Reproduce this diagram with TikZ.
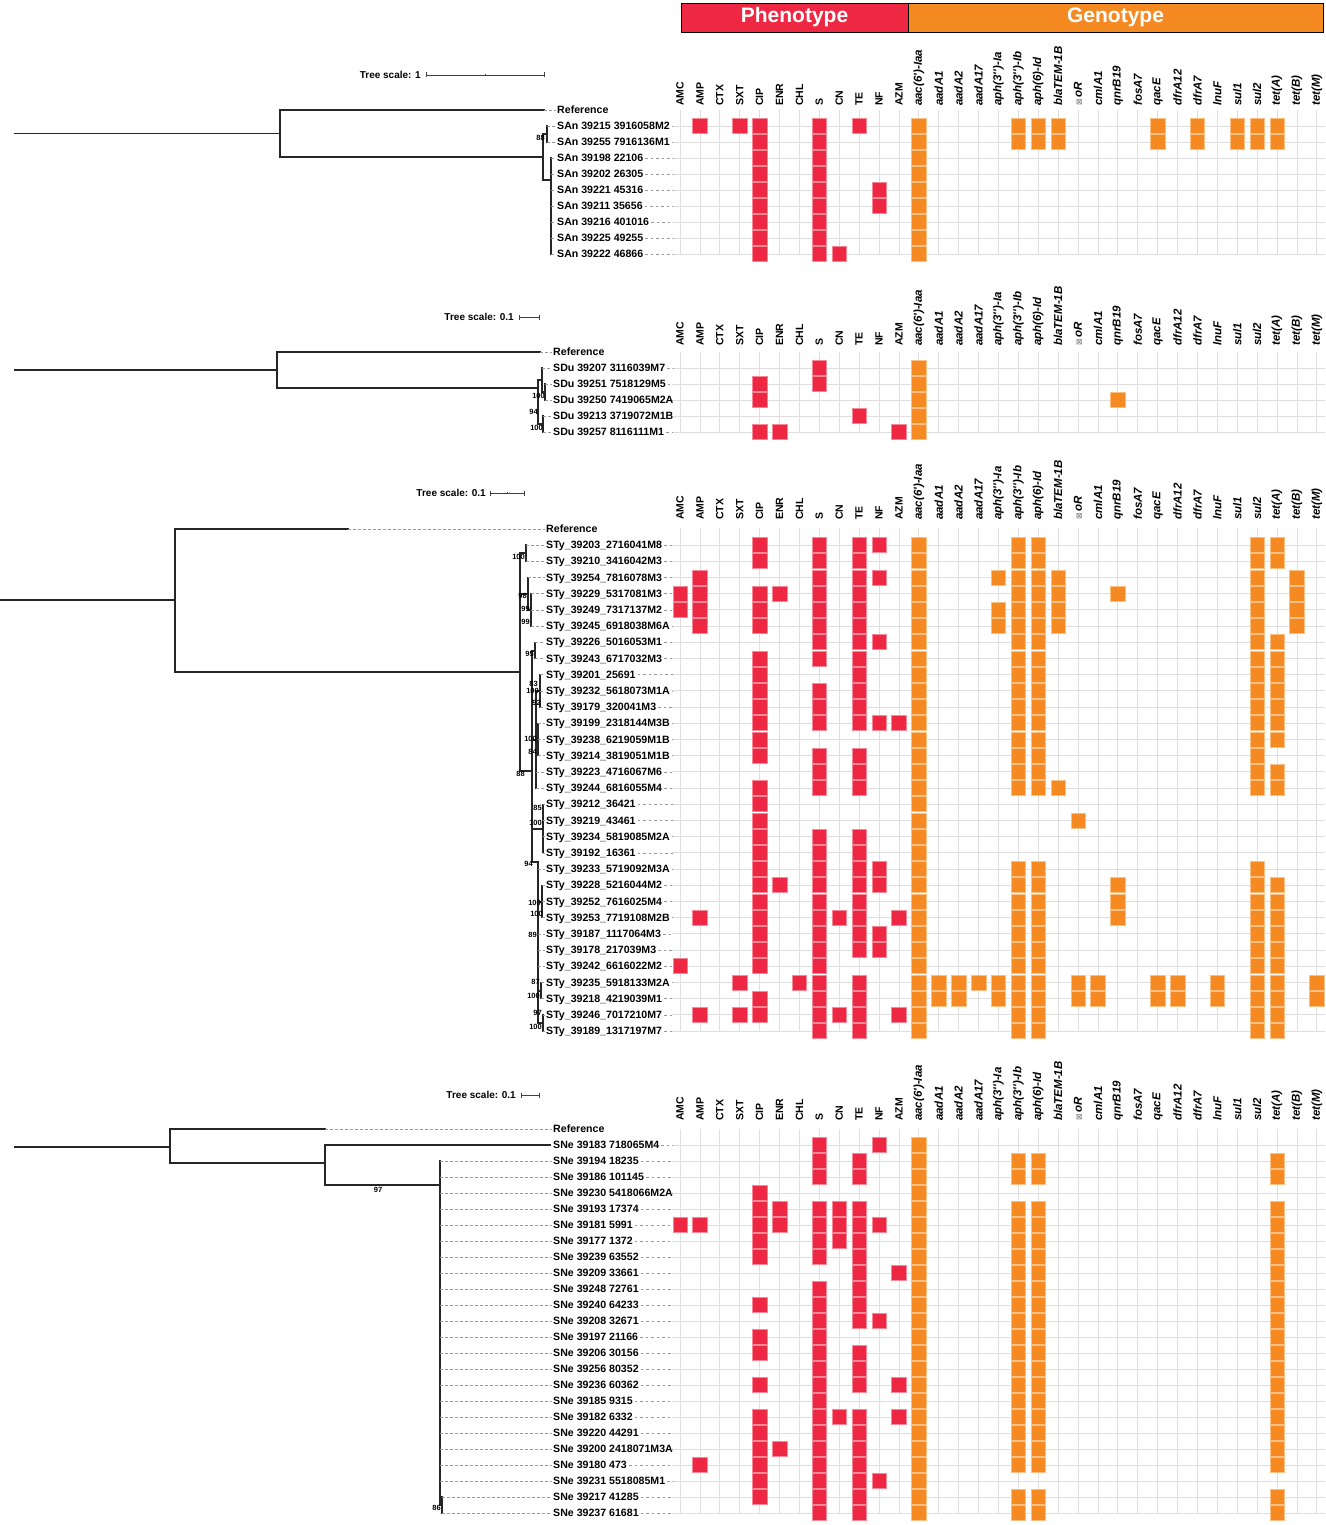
\documentclass[tikz,border=0pt]{standalone}
\usepackage{fontspec}
\setmainfont{Liberation Sans}
\newfontfamily\symf{DejaVu Sans}
\definecolor{phen}{HTML}{EE2742}
\definecolor{geno}{HTML}{F58A22}
\tikzset{
 treeline/.style={draw=black!85, line width=1.2pt, line cap=rect},
 leafdash/.style={draw=black!40, dash pattern=on 2.5pt off 2.5pt, line width=0.6pt, shorten >=1pt},
 trail/.style={draw=black!40, dash pattern=on 2.5pt off 3pt, line width=0.6pt, shorten <=2pt},
 leaf/.style={anchor=west, inner sep=0pt, text height=7.5pt, text depth=0pt, font=\bfseries\fontsize{10.6}{12}\selectfont},
 hlabp/.style={anchor=west, rotate=90, inner sep=0pt, font=\bfseries\fontsize{10.5}{10.5}\selectfont},
 hlabg/.style={anchor=west, rotate=90, inner sep=0pt, font=\bfseries\itshape\fontsize{11.5}{11.5}\selectfont},
 boot/.style={anchor=east, inner sep=0pt, font=\bfseries\fontsize{7.5}{7.5}\selectfont},
 scaletxt/.style={anchor=east, inner sep=0pt, font=\bfseries\fontsize{10}{10}\selectfont},
 scalebar/.style={draw=black!75, line width=0.7pt},
 gridl/.style={draw=black!13, line width=0.8pt},
 cellp/.style={fill=phen, draw=phen!55!white, line width=0.5pt},
 cellg/.style={fill=geno, draw=geno!55!white, line width=0.5pt},
 bar/.style={draw=black, line width=0.8pt},
 bartxt/.style={text=white, font=\bfseries\fontsize{21}{21}\selectfont, inner sep=0pt}
}
\newcommand\hdr[1]{%
 \foreach \lab [count=\i from 0] in {AMC,AMP,CTX,SXT,CIP,ENR,CHL,S,CN,TE,NF,AZM}
   \node[hlabp] (hp-#1-\i) at ({680+19.9*\i},#1) {\lab};
 \foreach \lab [count=\i from 12] in {{aac(6\textquotesingle)-Iaa},aadA1,aadA2,aadA17,{aph(3\textquotesingle\textquotesingle)-Ia},{aph(3\textquotesingle\textquotesingle)-Ib},{aph(6)-Id},blaTEM-1B,{{\symf\mdseries\upshape\fontsize{8}{8}\selectfont\color{black!55}⊠}\,oR},cmlA1,qnrB19,fosA7,qacE,dfrA12,dfrA7,lnuF,sul1,sul2,{tet(A)},{tet(B)},{tet(M)}}
   \node[hlabg] (hg-#1-\i) at ({680+19.9*\i},#1) {\lab};
}
\newcommand\grid[3]{%
 \foreach \i in {0,...,32} \draw[gridl] ({680+19.9*\i},#1) -- ({680+19.9*\i},#2);
 \foreach \yy in {#3} \draw[gridl] (672,\yy) -- (1325,\yy);
}
\newcommand\cells[2]{%
 \foreach \c in {#2} {%
   \ifnum\c<12 \def\st{cellp}\else\def\st{cellg}\fi
   \draw[\st] ({680+19.9*\c-7.25},{#1-7.5}) rectangle ++(14.5,15);
 }}
\newcommand\leaves[3]{%
 \foreach \lab/\yy/\tx [count=\k] in {#3} {%
   \node[leaf] (#1\k) at (#2,\yy) {\lab};
   \draw[leafdash] (\tx,\yy) -- (#1\k.west);
   \draw[trail] (#1\k.east) -- (673,\yy);
 }}
\begin{document}
\begin{tikzpicture}[x=1pt,y=-1pt]
\useasboundingbox[fill=white] (0,0) rectangle (1325,1525);

% ===== header bars =====
\draw[bar, fill=phen] (681,3) rectangle (908,32);
\draw[bar, fill=geno] (908,3) rectangle (1323,32);
\node[bartxt] (phenot) at (794.5,17.5) {Phenotype};
\node[bartxt] (genot) at (1115.5,17.5) {Genotype};

% ===== panel 1 =====
\hdr{106}
\grid{110}{254}{126,142,158,174,190,206,222,238,254}
\cells{126}{1,3,4,7,9,12,17,18,19,24,26,28,29,30}
\cells{142}{4,7,12,17,18,19,24,26,28,29,30}
\cells{158}{4,7,12}
\cells{174}{4,7,12}
\cells{190}{4,7,10,12}
\cells{206}{4,7,10,12}
\cells{222}{4,7,12}
\cells{238}{4,7,12}
\cells{254}{4,7,8,12}
\node[scaletxt] (ts1) at (421,75) {Tree scale: 1};
\coordinate (sb1a) at (426,75); \coordinate (sb1b) at (544,75);
\draw[scalebar] (sb1a) -- (sb1b);
\draw[scalebar] (426,72.5) -- (426,77.5) (544,72.5) -- (544,77.5) (485,74) -- (485,76);
\draw[treeline] (15,133.5) -- (280,133.5) (280,110) -- (280,157);
\draw[treeline] (280,110) -- (544,110) (280,157) -- (543,157);
\draw[treeline] (543,134) -- (543,180) (543,134) -- (547,134) (547,126) -- (547,142);
\draw[treeline] (543,180) -- (551,180) (551,158) -- (551,254);
\node[leaf] (ref1) at (557,110) {Reference};
\draw[leafdash] (544,110) -- (ref1.west);
\node[boot] (bs1) at (545,138) {88};
\leaves{pa}{557}{SAn 39215 3916058M2/126/547,SAn 39255 7916136M1/142/547,SAn 39198 22106/158/551,SAn 39202 26305/174/551,SAn 39221 45316/190/551,SAn 39211 35656/206/551,SAn 39216 401016/222/551,SAn 39225 49255/238/551,SAn 39222 46866/254/551}

% ===== panel 2 =====
\hdr{346}
\grid{352}{432}{368,384,400,416,432}
\cells{368}{7,12}
\cells{384}{4,7,12}
\cells{400}{4,12,22}
\cells{416}{9,12}
\cells{432}{4,5,11,12}
\node[scaletxt] (ts2) at (514,317) {Tree scale: 0.1};
\draw[scalebar] (519,317) -- (539,317);
\draw[scalebar] (519,314.5) -- (519,319.5) (539,314.5) -- (539,319.5);
\draw[treeline] (15,370) -- (277,370) (277,352) -- (277,388);
\draw[treeline] (277,352) -- (540,352) (277,388) -- (538,388);
\draw[treeline] (538,380) -- (538,424);
\draw[treeline] (538,380) -- (542,380) (542,368) -- (542,392) (542,392) -- (545,392) (545,384) -- (545,400);
\draw[treeline] (538,424) -- (543,424) (543,416) -- (543,432);
\node[leaf] (ref2) at (553,352) {Reference};
\draw[leafdash] (540,352) -- (ref2.west);
\node[boot] (bs2a) at (545,396) {100};
\node[boot] (bs2b) at (538,412) {94};
\node[boot] (bs2c) at (543,428) {100};
\leaves{pb}{553}{SDu 39207 3116039M7/368/542,SDu 39251 7518129M5/384/545,SDu 39250 7419065M2A/400/545,SDu 39213 3719072M1B/416/543,SDu 39257 8116111M1/432/543}

% ===== panel 3 =====
\hdr{520}
\grid{528}{1031}{545.0,561.2,577.4,593.6,609.8,626.0,642.2,658.4,674.6,690.8,707.0,723.2,739.4,755.6,771.8,788.0,804.2,820.4,836.6,852.8,869.0,885.2,901.4,917.6,933.8,950.0,966.2,982.4,998.6,1014.8,1031.0}
\cells{545.0}{4,7,9,10,12,17,18,29,30}
\cells{561.2}{4,7,9,12,17,18,29,30}
\cells{577.4}{1,7,9,10,12,16,17,18,19,29,31}
\cells{593.6}{0,1,4,5,7,9,12,17,18,19,22,29,31}
\cells{609.8}{0,1,4,7,9,12,16,17,18,19,29,31}
\cells{626.0}{1,4,7,9,12,16,17,18,19,29,31}
\cells{642.2}{7,9,10,12,17,18,29,30}
\cells{658.4}{4,7,9,12,17,18,29,30}
\cells{674.6}{4,9,12,17,18,29,30}
\cells{690.8}{4,7,9,12,17,18,29,30}
\cells{707.0}{4,7,9,12,17,18,29,30}
\cells{723.2}{4,7,9,10,11,12,17,18,29,30}
\cells{739.4}{4,12,17,18,29,30}
\cells{755.6}{4,7,9,12,17,18,29}
\cells{771.8}{7,9,12,17,18,29,30}
\cells{788.0}{4,7,9,12,17,18,19,29,30}
\cells{804.2}{4,12}
\cells{820.4}{4,12,20}
\cells{836.6}{4,7,9,12}
\cells{852.8}{4,7,9,12}
\cells{869.0}{4,7,9,10,12,17,18,29}
\cells{885.2}{4,5,7,9,10,12,17,18,22,29,30}
\cells{901.4}{4,7,9,12,17,18,22,29,30}
\cells{917.6}{1,4,7,8,9,11,12,17,18,22,29,30}
\cells{933.8}{4,7,9,10,12,17,18,29,30}
\cells{950.0}{4,7,9,10,12,17,18,29,30}
\cells{966.2}{0,4,7,12,17,18,29,30}
\cells{982.4}{3,6,7,9,12,13,14,15,16,17,18,20,21,24,25,27,29,30,32}
\cells{998.6}{4,7,9,12,13,14,16,17,18,20,21,24,25,27,29,30,32}
\cells{1014.8}{1,3,4,7,8,9,11,12,17,18,29,30}
\cells{1031.0}{7,9,12,17,18,29,30}
\node[scaletxt] (ts3) at (486,493) {Tree scale: 0.1};
\draw[scalebar] (490,493) -- (524,493);
\draw[scalebar] (490,490.5) -- (490,495.5) (524,490.5) -- (524,495.5) (507,492) -- (507,494);
\draw[treeline] (0,600) -- (175,600) (175,529) -- (175,672);
\draw[treeline] (175,529) -- (348,529) (175,672) -- (520,672);
\draw[treeline] (520,553) -- (520,771);
\draw[treeline] (520,553) -- (526,553) (526,545) -- (526,561.2);
\draw[treeline] (520,594) -- (528,594) (528,577.4) -- (528,610) (528,610) -- (531,610) (531,593.6) -- (531,626);
\draw[treeline] (520,771) -- (532,771) (532,651) -- (532,862);
\draw[treeline] (532,651) -- (535,651) (535,642.2) -- (535,658.4);
\draw[treeline] (532,740) -- (536,740) (536,691) -- (536,788);
\draw[treeline] (536,691) -- (540,691) (540,674.6) -- (540,707);
\draw[treeline] (536,740) -- (538,740) (538,723.2) -- (538,755.6);
\draw[treeline] (532,829) -- (543,829) (543,804.2) -- (543,852.8);
\draw[treeline] (532,862) -- (538,862) (538,869) -- (538,1023) (538,862) -- (538,869);
\draw[treeline] (538,902) -- (542,902) (542,885.2) -- (542,917.6);
\draw[treeline] (538,991) -- (541,991) (541,982.4) -- (541,998.6);
\draw[treeline] (538,1023) -- (543,1023) (543,1014.8) -- (543,1031);
\node[leaf] (ref3) at (546,529) {Reference};
\draw[leafdash] (348,529) -- (ref3.west);
\node[boot] (bs3a) at (525,557) {100};
\node[boot] (bs3b) at (527,596) {98};
\node[boot] (bs3c) at (530,609) {99};
\node[boot] (bs3d) at (530,622) {99};
\node[boot] (bs3e) at (534,654) {95};
\node[boot] (bs3f) at (538,684) {83};
\node[boot] (bs3g) at (539,691) {100};
\node[boot] (bs3h) at (541,703) {92};
\node[boot] (bs3i) at (537,739) {100};
\node[boot] (bs3j) at (537,752) {84};
\node[boot] (bs3k) at (525,774) {88};
\node[boot] (bs3l) at (542,808) {85};
\node[boot] (bs3m) at (542,823) {100};
\node[boot] (bs3n) at (533,864) {94};
\node[boot] (bs3o) at (541,903) {100};
\node[boot] (bs3p) at (543,914) {100};
\node[boot] (bs3q) at (537,935) {89};
\node[boot] (bs3r) at (540,982) {87};
\node[boot] (bs3s) at (540,996) {100};
\node[boot] (bs3t) at (542,1013) {97};
\node[boot] (bs3u) at (542,1027) {100};
\leaves{pc}{546}{STy\_39203\_2716041M8/545.0/526,STy\_39210\_3416042M3/561.2/526,STy\_39254\_7816078M3/577.4/528,STy\_39229\_5317081M3/593.6/531,STy\_39249\_7317137M2/609.8/531,STy\_39245\_6918038M6A/626.0/531,STy\_39226\_5016053M1/642.2/535,STy\_39243\_6717032M3/658.4/535,STy\_39201\_25691/674.6/540,STy\_39232\_5618073M1A/690.8/540,STy\_39179\_320041M3/707.0/540,STy\_39199\_2318144M3B/723.2/538,STy\_39238\_6219059M1B/739.4/538,STy\_39214\_3819051M1B/755.6/538,STy\_39223\_4716067M6/771.8/536,STy\_39244\_6816055M4/788.0/536,STy\_39212\_36421/804.2/543,STy\_39219\_43461/820.4/543,STy\_39234\_5819085M2A/836.6/543,STy\_39192\_16361/852.8/543,STy\_39233\_5719092M3A/869.0/538,STy\_39228\_5216044M2/885.2/542,STy\_39252\_7616025M4/901.4/542,STy\_39253\_7719108M2B/917.6/542,STy\_39187\_1117064M3/933.8/538,STy\_39178\_217039M3/950.0/538,STy\_39242\_6616022M2/966.2/538,STy\_39235\_5918133M2A/982.4/541,STy\_39218\_4219039M1/998.6/541,STy\_39246\_7017210M7/1014.8/543,STy\_39189\_1317197M7/1031.0/543}

% ===== panel 4 =====
\hdr{1121}
\grid{1129}{1513}{1145,1161,1177,1193,1209,1225,1241,1257,1273,1289,1305,1321,1337,1353,1369,1385,1401,1417,1433,1449,1465,1481,1497,1513}
\cells{1145}{7,10,12}
\cells{1161}{7,9,12,17,18,30}
\cells{1177}{7,9,12,17,18,30}
\cells{1193}{4,12}
\cells{1209}{4,5,7,8,9,12,17,18,30}
\cells{1225}{0,1,4,5,7,8,9,10,12,17,18,30}
\cells{1241}{4,7,8,9,12,17,18,30}
\cells{1257}{4,7,9,12,17,18,30}
\cells{1273}{9,11,12,17,18,30}
\cells{1289}{7,9,12,17,18,30}
\cells{1305}{4,7,9,12,17,18,30}
\cells{1321}{7,9,10,12,17,18,30}
\cells{1337}{4,7,12,17,18,30}
\cells{1353}{4,7,9,12,17,18,30}
\cells{1369}{7,9,12,17,18,30}
\cells{1385}{4,7,9,11,12,17,18,30}
\cells{1401}{7,12,17,18,30}
\cells{1417}{4,7,8,9,11,12,17,18,30}
\cells{1433}{4,7,9,12,17,18,30}
\cells{1449}{4,5,7,9,12,17,18,30}
\cells{1465}{1,4,7,9,12,17,18,30}
\cells{1481}{4,7,9,10,12}
\cells{1497}{4,7,9,12,17,18,30}
\cells{1513}{7,9,12,17,18,30}
\node[scaletxt] (ts4) at (516,1095) {Tree scale: 0.1};
\draw[scalebar] (521,1095) -- (539,1095);
\draw[scalebar] (521,1092.5) -- (521,1097.5) (539,1092.5) -- (539,1097.5);
\draw[treeline] (15,1147) -- (170,1147) (170,1129) -- (170,1163);
\draw[treeline] (170,1129) -- (325,1129) (170,1163) -- (325,1163);
\draw[treeline] (325,1145) -- (325,1185) (325,1185) -- (440,1185);
\draw[treeline] (440,1161) -- (440,1505) (440,1505) -- (442,1505) (442,1497) -- (442,1513);
\node[leaf] (ref4) at (553,1129) {Reference};
\draw[leafdash] (325,1129) -- (ref4.west);
\node[leaf] (pd0) at (553,1145) {SNe 39183 718065M4};
\draw[treeline] (325,1145) -- ([xshift=-3pt]pd0.west);
\draw[trail] (pd0.east) -- (673,1145);
\node[boot, anchor=north] (bs4a) at (378,1187) {97};
\node[boot] (bs4b) at (441,1508) {86};
\leaves{pd}{553}{SNe 39194 18235/1161/440,SNe 39186 101145/1177/440,SNe 39230 5418066M2A/1193/440,SNe 39193 17374/1209/440,SNe 39181 5991/1225/440,SNe 39177 1372/1241/440,SNe 39239 63552/1257/440,SNe 39209 33661/1273/440,SNe 39248 72761/1289/440,SNe 39240 64233/1305/440,SNe 39208 32671/1321/440,SNe 39197 21166/1337/440,SNe 39206 30156/1353/440,SNe 39256 80352/1369/440,SNe 39236 60362/1385/440,SNe 39185 9315/1401/440,SNe 39182 6332/1417/440,SNe 39220 44291/1433/440,SNe 39200 2418071M3A/1449/440,SNe 39180 473/1465/440,SNe 39231 5518085M1/1481/440,SNe 39217 41285/1497/442,SNe 39237 61681/1513/442}
\end{tikzpicture}
\end{document}
